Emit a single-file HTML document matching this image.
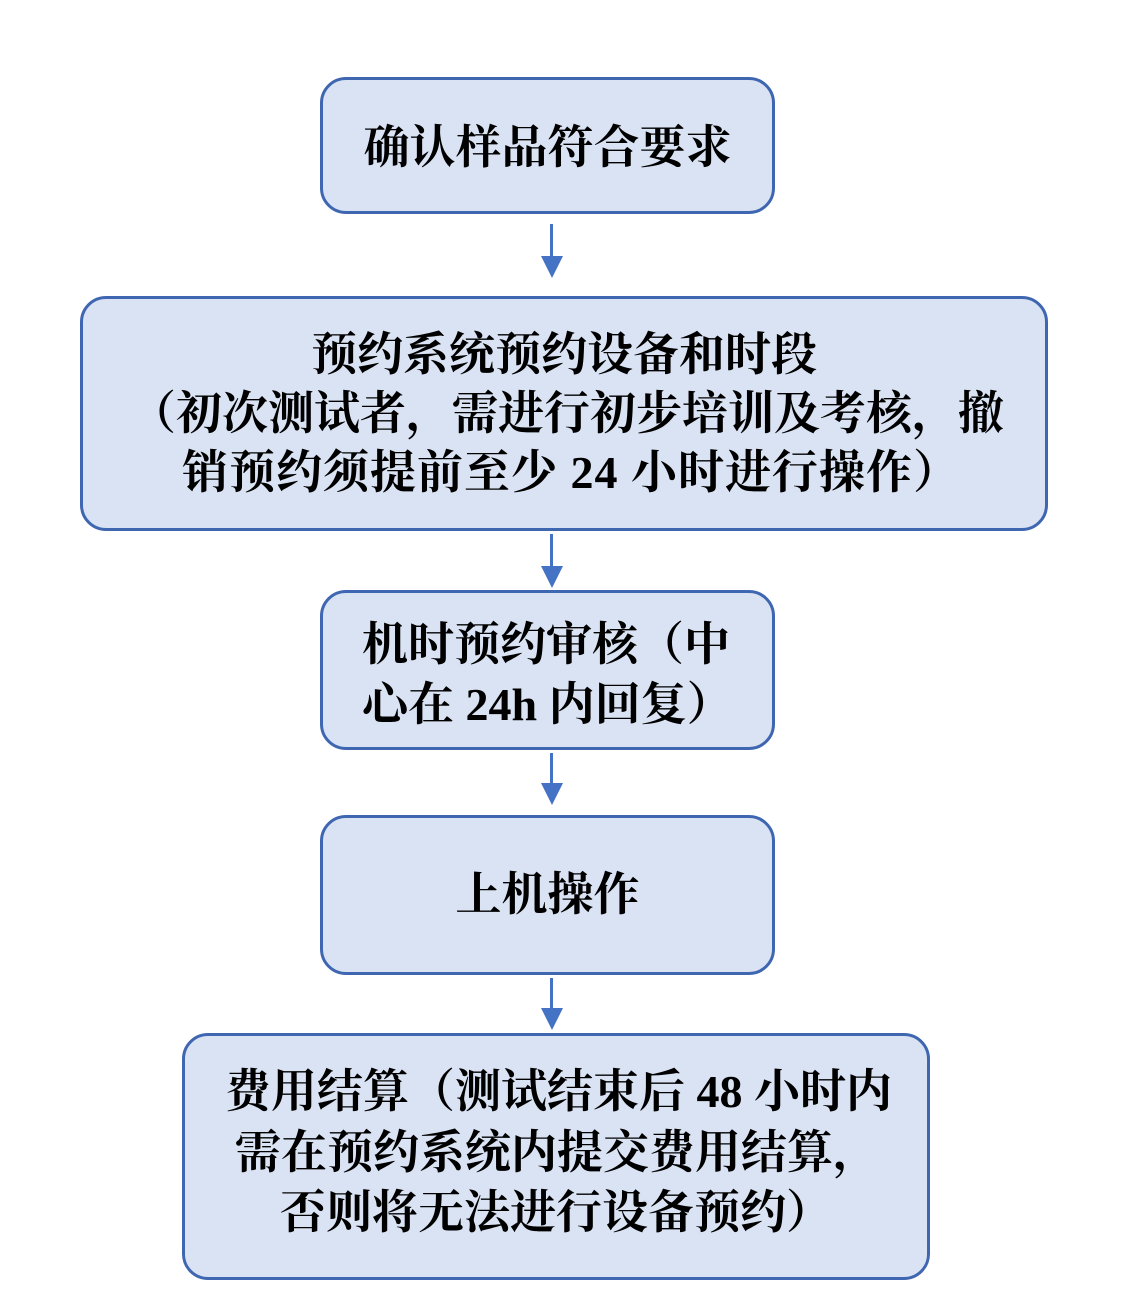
<!DOCTYPE html>
<html><head><meta charset="utf-8"><style>
body{margin:0;width:1139px;height:1314px;background:#fff;position:relative;overflow:hidden;font-family:"Liberation Serif","Noto Serif CJK SC",serif;}
.b{position:absolute;box-sizing:border-box;background:#dae3f3;border:3px solid #3f67b1;border-radius:26px;}
.t{position:absolute;font-weight:bold;font-size:46px;color:#000;white-space:nowrap;line-height:60px;}
.c{text-align:center;left:0;right:0;}
.a{position:absolute;left:550px;width:3px;background:#4472c4;}
.h{position:absolute;left:541px;width:0;height:0;border-left:11px solid transparent;border-right:11px solid transparent;border-top:22px solid #4472c4;}
</style></head><body>
<div class="b" style="left:320px;top:77px;width:455px;height:137px"></div>
<div class="t c" style="left:320px;width:455px;right:auto;top:118px">确认样品符合要求</div>

<div class="b" style="left:80px;top:296px;width:968px;height:235px"></div>
<div class="t c" style="left:80px;width:968px;right:auto;top:325px">预约系统预约设备和时段</div>
<div class="t" style="left:130px;top:384px">（初次测试者，需进行初步培训及考核，撤</div>
<div class="t" style="left:182px;top:443px;letter-spacing:1px">销预约须提前至少 24 小时进行操作）</div>

<div class="b" style="left:320px;top:590px;width:455px;height:160px"></div>
<div class="t" style="left:362px;top:615px">机时预约审核（中</div>
<div class="t" style="left:362px;top:675px">心在 24h 内回复）</div>

<div class="b" style="left:320px;top:815px;width:455px;height:160px"></div>
<div class="t c" style="left:320px;width:455px;right:auto;top:865px">上机操作</div>

<div class="b" style="left:182px;top:1033px;width:748px;height:247px"></div>
<div class="t" style="left:225px;top:1062px">费用结算（测试结束后 48 小时内</div>
<div class="t" style="left:235px;top:1123px">需在预约系统内提交费用结算，</div>
<div class="t" style="left:280px;top:1183px">否则将无法进行设备预约）</div>

<div class="a" style="top:224px;height:34px"></div><div class="h" style="top:256px"></div>
<div class="a" style="top:534px;height:34px"></div><div class="h" style="top:566px"></div>
<div class="a" style="top:753px;height:32px"></div><div class="h" style="top:783px"></div>
<div class="a" style="top:978px;height:32px"></div><div class="h" style="top:1008px"></div>
</body></html>
